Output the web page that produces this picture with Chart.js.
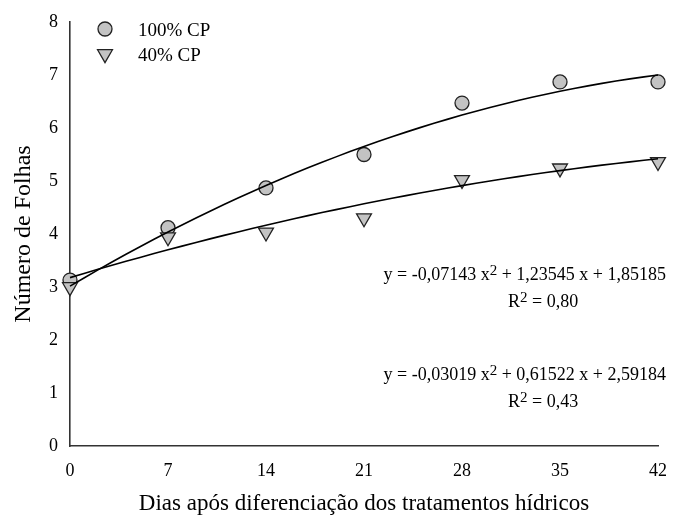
<!DOCTYPE html>
<html><head><meta charset="utf-8">
<script src="https://cdn.jsdelivr.net/npm/chart.js@4/dist/chart.umd.min.js"></script>
<style>html,body{margin:0;padding:0;background:#fff}#wrap{width:674px;height:516px;position:relative}</style>
</head><body><div id="wrap"><canvas id="c"></canvas></div>
<script>
// ---- data ----
const days = [0, 7, 14, 21, 28, 35, 42];
const xTickValues = [0, 7, 14, 21, 28, 35, 42];
const yTickValues = [0, 1, 2, 3, 4, 5, 6, 7, 8];
const seriesNames = ['100% CP', '40% CP'];
const cp100 = [3.13, 4.12, 4.87, 5.50, 6.47, 6.87, 6.87];
const cp40 = [3.00, 3.94, 4.03, 4.30, 5.02, 5.24, 5.36];
// printed regression coefficients (a x^2 + b x + c, x = evaluation number 1..7)
const coef100 = [-0.07143, 1.23545, 1.85185];
const coef40 = [-0.03019, 0.61522, 2.59184];
const r2Values = [0.80, 0.43];
const xTitle = 'Dias após diferenciação dos tratamentos hídricos';
const yTitle = 'Número de Folhas';

const FONT = '"Liberation Serif", "Times New Roman", serif';

function trend(coef) {
  const pts = [];
  for (let d = 0; d <= 42; d++) {
    const x = d / 7 + 1;
    pts.push({x: d, y: coef[0] * x * x + coef[1] * x + coef[2]});
  }
  return pts;
}
const fmt = v => v.toFixed(5).replace('.', ',');
const fmt2 = v => v.toFixed(2).replace('.', ',');

const equations = [
  {coef: coef100, r2: r2Values[0], eqBase: 280, r2Base: 307},
  {coef: coef40, r2: r2Values[1], eqBase: 380, r2Base: 407}
];

function drawRich(ctx, parts, x, y, align, size) {
  const base = size + 'px ' + FONT;
  const sup = Math.round(size * 0.85) + 'px ' + FONT;
  let w = 0;
  parts.forEach(p => { ctx.font = p.sup ? sup : base; w += ctx.measureText(p.t).width; });
  let cx = align === 'right' ? x - w : x;
  ctx.textAlign = 'left';
  ctx.textBaseline = 'alphabetic';
  parts.forEach(p => {
    ctx.font = p.sup ? sup : base;
    ctx.fillText(p.t, cx, p.sup ? y - 5 : y);
    cx += ctx.measureText(p.t).width;
  });
}

const annotationPlugin = {
  id: 'eqs',
  afterDraw(chart) {
    const ctx = chart.ctx;
    ctx.save();
    ctx.fillStyle = '#000';
    equations.forEach(e => {
      drawRich(ctx, [
        {t: 'y = ' + fmt(e.coef[0]) + ' x'}, {t: '2', sup: true},
        {t: ' + ' + fmt(e.coef[1]) + ' x + ' + fmt(e.coef[2])}
      ], 666, e.eqBase, 'right', 18);
      drawRich(ctx, [{t: 'R'}, {t: '2', sup: true}, {t: ' = ' + fmt2(e.r2)}], 508, e.r2Base, 'left', 18);
    });
    // legend
    const items = [chart.data.datasets[1], chart.data.datasets[2]];
    const ys = [29, 54];
    items.forEach((ds, i) => {
      ctx.fillStyle = ds.backgroundColor;
      ctx.strokeStyle = ds.borderColor;
      ctx.lineWidth = ds.borderWidth;
      Chart.helpers.drawPoint(ctx, {pointStyle: ds.pointStyle, rotation: ds.rotation, radius: ds.pointRadius, borderWidth: ds.borderWidth}, 105, ys[i]);
      ctx.fillStyle = '#000';
      ctx.font = '19px ' + FONT;
      ctx.textAlign = 'left';
      ctx.textBaseline = 'middle';
      ctx.fillText(ds.label, 138, ys[i] + 2);
    });
    ctx.restore();
  }
};

const pointFill = '#c3c3c3';
const pointEdge = '#222';

new Chart(document.getElementById('c'), {
  type: 'scatter',
  data: {
    datasets: [
      {label: 'trend100', type: 'line', data: trend(coef100), borderColor: '#000', borderWidth: 1.6, pointRadius: 0, fill: false, order: 0, clip: false},
      {label: seriesNames[0], data: days.map((d, i) => ({x: d, y: cp100[i]})), pointStyle: 'circle', pointRadius: 7, rotation: 0,
        backgroundColor: pointFill, borderColor: pointEdge, borderWidth: 1.3, order: 3, clip: false},
      {label: seriesNames[1], data: days.map((d, i) => ({x: d, y: cp40[i]})), pointStyle: 'triangle', pointRadius: 8.6, rotation: 180,
        backgroundColor: pointFill, borderColor: pointEdge, borderWidth: 1.3, order: 2, clip: false},
      {label: 'trend40', type: 'line', data: trend(coef40), borderColor: '#000', borderWidth: 1.6, pointRadius: 0, fill: false, order: 1, clip: false}
    ]
  },
  options: {
    responsive: true,
    maintainAspectRatio: false,
    animation: false,
    devicePixelRatio: 1,
    layout: {padding: {top: 22, right: 16, left: 0, bottom: 0}},
    plugins: {legend: {display: false}, tooltip: {enabled: false}},
    scales: {
      x: {
        type: 'linear', min: 0, max: 42,
        afterBuildTicks: s => { s.ticks = xTickValues.map(v => ({value: v})); },
        afterFit: s => { s.height = 70; s.paddingRight = 0; s.paddingLeft = 0; },
        grid: {display: false, drawTicks: false},
        border: {display: true, color: '#333', width: 1.6},
        ticks: {padding: 14, color: '#000', font: {family: FONT, size: 18}, autoSkip: false, maxRotation: 0},
        title: {display: true, text: xTitle, color: '#000', font: {family: FONT, size: 23, lineHeight: 1}, padding: {top: 0, bottom: 1}}
      },
      y: {
        type: 'linear', min: 0, max: 8,
        afterBuildTicks: s => { s.ticks = yTickValues.map(v => ({value: v})); },
        afterFit: s => { s.width = 70; s.paddingTop = 0; s.paddingBottom = 0; },
        grid: {display: false, drawTicks: false},
        border: {display: true, color: '#333', width: 1.6},
        ticks: {padding: 12, color: '#000', font: {family: FONT, size: 18}},
        title: {display: true, text: yTitle, color: '#000', font: {family: FONT, size: 24, lineHeight: 1.2}, padding: {top: 9, bottom: 0}}
      }
    }
  },
  plugins: [annotationPlugin]
});
</script>
</body></html>
